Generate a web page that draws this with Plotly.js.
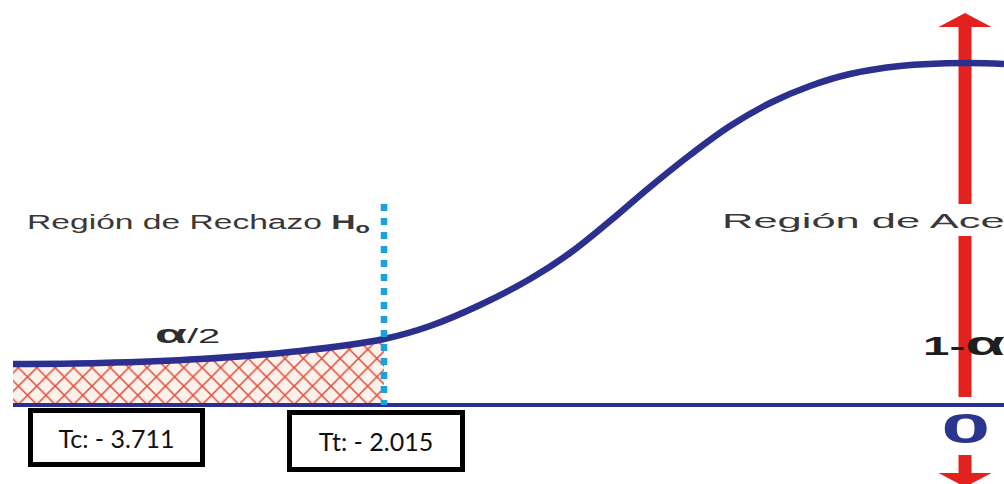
<!DOCTYPE html>
<html><head><meta charset="utf-8">
<script src="https://cdn.plot.ly/plotly-3.0.1.min.js"></script>
<style>html,body{margin:0;padding:0;background:#fff;overflow:hidden}</style>
</head><body><div id="chart" style="width:1004px;height:484px"></div>
<script>
// Left half of the t distribution (schematic): horizontal offset from the centre, height above the axis
const curveX = [-952, -865, -765, -665, -581, -535, -485, -435, -395, -355, -315, -275, -235, -195, -155, -115, -65, 0, 39];
const curveY = [41, 42, 46, 54, 66, 79, 100, 126, 152, 184, 218, 250, 279, 302, 319, 331, 339, 342, 341];
const criticalX = -581;   // tabulated t (boundary of the rejection region)
const centerX = 0;        // centre of the distribution
const criticalLabels = ["Tc: - 3.711", "Tt: - 2.015"];
const regionLabels = ["Región de Rechazo <b>H<sub>o</sub></b>", "Región de Aceptación"];
const alphaLabels = ["<span style=\"font-size:26px\"><b>α</b></span><span style=\"font-size:20px\">/2</span>", "<b>1-</b><span style=\"font-size:34px\"><b>α</b></span>"];
const centerLabel = "<b>0</b>";

const navy = "#2b2f8e", red = "#e3221f", cyan = "#1ea0dc";

const hatchX = [], hatchY = [];
curveX.forEach((x, i) => { if (x <= criticalX) { hatchX.push(x); hatchY.push(curveY[i]); } });

const traces = [
  { x: hatchX, y: hatchY, type: "scatter", mode: "lines", line: { width: 0, shape: "spline" },
    fill: "tozeroy", fillcolor: "rgba(0,0,0,0)",
    fillpattern: { shape: "x", fgcolor: "#e04a36", bgcolor: "#fdf1ec", size: 13, solidity: 0.22 },
    hoverinfo: "skip" },
  { x: curveX, y: curveY, type: "scatter", mode: "lines",
    line: { color: navy, width: 6.5, shape: "spline", smoothing: 1 }, hoverinfo: "skip" }
];

const shaftW = 13, headW = 53, headH = 14;
const shapes = [
  // red vertical arrow through the centre
  { type: "rect", layer: "below", x0: centerX - shaftW / 2, x1: centerX + shaftW / 2, y0: 201, y1: 378, fillcolor: red, line: { width: 0 } },
  { type: "rect", layer: "below", x0: centerX - shaftW / 2, x1: centerX + shaftW / 2, y0: 8, y1: 169, fillcolor: red, line: { width: 0 } },
  { type: "rect", layer: "below", x0: centerX - shaftW / 2, x1: centerX + shaftW / 2, y0: -68, y1: -50, fillcolor: red, line: { width: 0 } },
  { type: "path", layer: "below", path: `M ${centerX - headW / 2},378 L ${centerX + headW / 2},378 L ${centerX},${378 + headH} Z`, fillcolor: red, line: { width: 0 } },
  { type: "path", layer: "below", path: `M ${centerX - headW / 2},-68 L ${centerX + headW / 2},-68 L ${centerX},${-68 - headH} Z`, fillcolor: red, line: { width: 0 } },
  // horizontal axis
  { type: "line", layer: "above", x0: curveX[0], x1: 60, y0: 0, y1: 0, line: { color: navy, width: 4 } },
  // dashed critical line
  { type: "line", layer: "above", x0: criticalX, x1: criticalX, y0: 201, y1: 0, line: { color: cyan, width: 6.5, dash: "7px,7px" } }
];

const textFont = { family: "Liberation Sans, Arial, sans-serif", size: 20, color: "#383838" };
const annotations = [
  { x: -940, y: 182, xanchor: "left", yanchor: "middle", text: regionLabels[0], showarrow: false, font: textFont },
  { x: -245, y: 185, xanchor: "left", yanchor: "middle", text: regionLabels[1], showarrow: false, font: Object.assign({}, textFont, { size: 21 }) },
  { x: -812, y: 71, xanchor: "left", yanchor: "middle", text: alphaLabels[0], showarrow: false, font: { family: "Liberation Sans, Arial, sans-serif", size: 20, color: "#2e2e2e" } },
  { x: -44, y: 62, xanchor: "left", yanchor: "middle", text: alphaLabels[1], showarrow: false, font: { family: "Liberation Sans, Arial, sans-serif", size: 25, color: "#1e1e1e" } },
  { x: centerX, y: -23, xanchor: "center", yanchor: "middle", text: centerLabel, showarrow: false, font: { family: "Liberation Sans, Arial, sans-serif", size: 42, color: "#2a3590" } },
  { x: -848.5, y: -32.5, xanchor: "center", yanchor: "middle", text: criticalLabels[0], showarrow: false,
    width: 167, height: 49, borderpad: 0, borderwidth: 5, bordercolor: "#000", bgcolor: "#fff",
    font: { family: "Lato, sans-serif", size: 25, color: "#111" } },
  { x: -589, y: -36, xanchor: "center", yanchor: "middle", text: criticalLabels[1], showarrow: false,
    width: 168, height: 52, borderpad: 0, borderwidth: 5, bordercolor: "#000", bgcolor: "#fff",
    font: { family: "Lato, sans-serif", size: 25, color: "#111" } }
];

const layout = {
  width: 1004, height: 484, margin: { l: 0, r: 0, t: 0, b: 0 },
  paper_bgcolor: "#fff", plot_bgcolor: "#fff", showlegend: false,
  xaxis: { range: [-965, 39], visible: false, fixedrange: true },
  yaxis: { range: [-79, 405], visible: false, fixedrange: true },
  shapes: shapes, annotations: annotations
};

// horizontal stretch of the original lettering
const stretch = { 0: [1.68, "0% 50%"], 1: [2.07, "0% 50%"], 2: [2.0, "0% 50%"], 3: [1.9, "0% 50%"], 4: [2.1, "50% 50%"] };

Plotly.newPlot("chart", traces, layout, { staticPlot: true }).then(() => {
  Object.keys(stretch).forEach(i => {
    const el = document.querySelector(`.annotation[data-index="${i}"] text.annotation-text`);
    if (!el) return;
    el.style.transformBox = "fill-box";
    el.style.transformOrigin = stretch[i][1];
    el.style.transform = `scaleX(${stretch[i][0]})`;
  });
});
</script>
</body></html>
